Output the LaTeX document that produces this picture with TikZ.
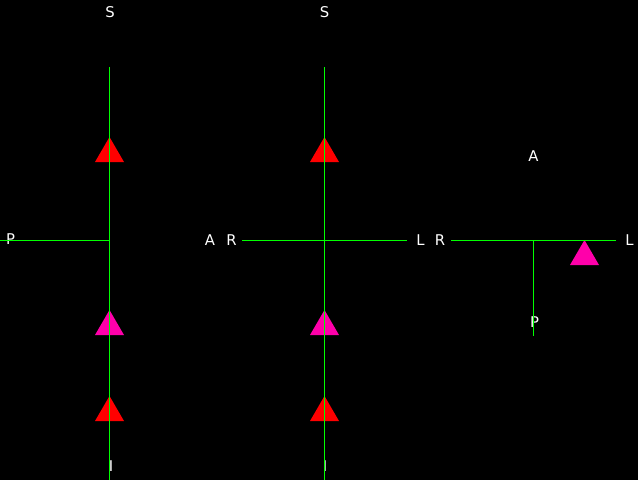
\documentclass[tikz,border=0pt]{standalone}
\usepackage{fontspec}
\setmainfont{DejaVu Sans}
\definecolor{lgreen}{RGB}{0,255,0}
\definecolor{pinkm}{RGB}{255,0,170}
\definecolor{redm}{RGB}{255,0,0}
\begin{document}
\begin{tikzpicture}[x=1pt,y=-1pt,
  lbl/.style={text=white,font=\fontsize{14.8}{16}\selectfont,inner sep=0pt,anchor=center},
  axis/.style={draw=lgreen,line width=1pt}]
\fill[black] (0,0) rectangle (638,480);
\useasboundingbox (0,0) rectangle (638,480);
% labels
\node[lbl] (s1) at (110,12.5) {S};
\node[lbl] (s2) at (324.5,12.5) {S};
\node[lbl] (i1) at (111,466) {I};
\node[lbl] (i2) at (325,466) {I};
\node[lbl] (p1) at (10.5,239.5) {P};
\node[lbl] (a1) at (210,240) {A};
\node[lbl] (r1) at (231.5,240) {R};
\node[lbl] (l1) at (420.5,240) {L};
\node[lbl] (r2) at (440,240) {R};
\node[lbl] (l2) at (629.5,240) {L};
\node[lbl] (a2) at (533.5,156.5) {A};
\node[lbl] (p2) at (534.5,322) {P};
% coordinates
\coordinate (v1t) at (109.5,67);
\coordinate (v1b) at (109.5,480);
\coordinate (h1l) at (0,240.5);
\coordinate (h1r) at (109.5,240.5);
\coordinate (v2t) at (324.5,67);
\coordinate (v2b) at (324.5,480);
\coordinate (h2l) at (242,240.5);
\coordinate (h2r) at (407,240.5);
\coordinate (h3l) at (451,240.5);
\coordinate (h3r) at (616,240.5);
\coordinate (v3t) at (533.5,240.5);
\coordinate (v3b) at (533.5,336);
% triangles
\newcommand{\mytri}[3]{\fill[#1] (#2,#3) -- ++(-14.5,25) -- ++(29,0) -- cycle;}
\mytri{redm}{109.5}{137}
\mytri{pinkm}{109.5}{310}
\mytri{redm}{109.5}{396}
\mytri{redm}{324.5}{137}
\mytri{pinkm}{324.5}{310}
\mytri{redm}{324.5}{396}
\mytri{pinkm}{584.5}{240}
% lines
\draw[axis] (v1t) -- (v1b);
\draw[axis] (h1l) -- (h1r);
\draw[axis] (v2t) -- (v2b);
\draw[axis] (h2l) -- (h2r);
\draw[axis] (h3l) -- (h3r);
\draw[axis] (v3t) -- (v3b);
\end{tikzpicture}
\end{document}
